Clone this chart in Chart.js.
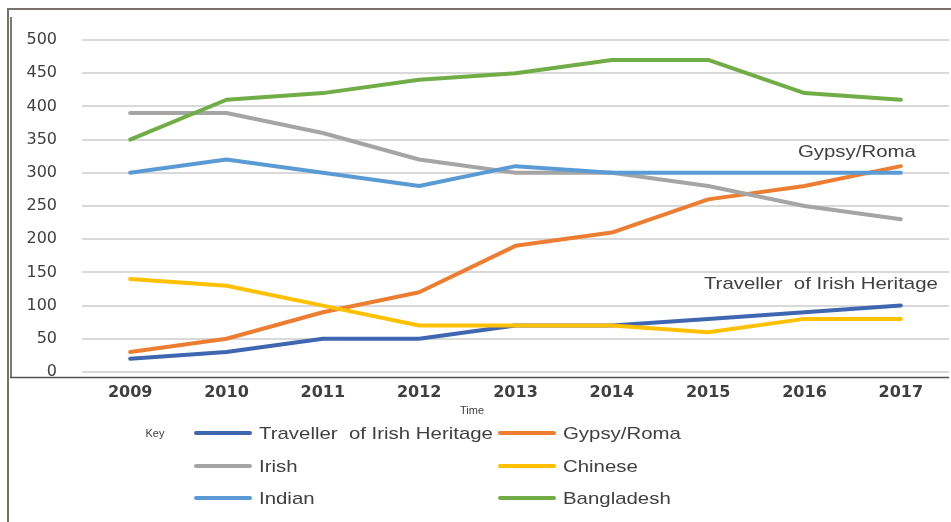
<!DOCTYPE html>
<html>
<head>
<meta charset="utf-8">
<script src="https://cdn.jsdelivr.net/npm/chart.js@4/dist/chart.umd.min.js"></script>
<style>
  html, body { margin: 0; padding: 0; background: #ffffff; }
  #wrap { width: 951px; height: 522px; }
</style>
</head>
<body>
<div id="wrap"><canvas id="c" width="951" height="522"></canvas></div>
<script>
const years = ['2009', '2010', '2011', '2012', '2013', '2014', '2015', '2016', '2017'];
const seriesNames = ['Traveller  of Irish Heritage', 'Gypsy/Roma', 'Irish', 'Chinese', 'Indian', 'Bangladesh'];
const traveller = [20, 30, 50, 50, 70, 70, 80, 90, 100];
const gypsyRoma = [30, 50, 90, 120, 190, 210, 260, 280, 310];
const irish = [390, 390, 360, 320, 300, 300, 280, 250, 230];
const chinese = [140, 130, 100, 70, 70, 70, 60, 80, 80];
const indian = [300, 320, 300, 280, 310, 300, 300, 300, 300];
const bangladesh = [350, 410, 420, 440, 450, 470, 470, 420, 410];
const yMin = 0, yMax = 500, yStep = 50;
const colors = ['#3f66b0', '#ed7d31', '#a5a5a5', '#ffc000', '#5b9bd5', '#70ad47'];
const seriesValues = [traveller, gypsyRoma, irish, chinese, indian, bangladesh];

const TEXT = '#404040';

function stretchText(ctx, text, x, y, sx, align) {
  ctx.save();
  ctx.translate(x, y);
  ctx.scale(sx, 1);
  ctx.textAlign = align;
  ctx.fillText(text, 0, 0);
  ctx.restore();
}

const decor = {
  id: 'decor',
  beforeDraw(chart) {
    const ctx = chart.ctx;
    ctx.save();
    ctx.fillStyle = '#ffffff';
    ctx.fillRect(0, 0, chart.width, chart.height);
    ctx.restore();
  },
  afterDraw(chart) {
    const ctx = chart.ctx;
    const xs = chart.scales.x, ys = chart.scales.y;
    ctx.save();
    // outer frame
    ctx.strokeStyle = '#7b716b';
    ctx.lineWidth = 2;
    ctx.beginPath();
    ctx.moveTo(7, 9); ctx.lineTo(951, 9);
    ctx.moveTo(8, 8); ctx.lineTo(8, 522);
    ctx.stroke();
    // inner frame
    ctx.strokeStyle = '#505050';
    ctx.lineWidth = 1.5;
    ctx.beginPath();
    ctx.moveTo(11, 17); ctx.lineTo(11, 378);
    ctx.moveTo(10, 377.5); ctx.lineTo(949, 377.5);
    ctx.stroke();

    ctx.fillStyle = TEXT;
    ctx.textBaseline = 'middle';
    // series annotations
    ctx.font = '17px "Liberation Sans", Arial, sans-serif';
    stretchText(ctx, 'Gypsy/Roma', xs.getPixelForValue(8) + 15, ys.getPixelForValue(331), 1.2, 'right');
    stretchText(ctx, 'Traveller  of Irish Heritage', xs.getPixelForValue(8) + 37, ys.getPixelForValue(132), 1.2, 'right');

    // axis title and key
    ctx.font = '11px "Liberation Sans", Arial, sans-serif';
    ctx.textAlign = 'center';
    ctx.fillText('Time', 472, 411);
    ctx.fillText('Key', 155, 434);

    // legend
    const colX = [196, 500];
    const rowY = [433, 466, 498];
    chart.data.datasets.forEach((ds, i) => {
      const cx = colX[i % 2], cy = rowY[Math.floor(i / 2)];
      ctx.strokeStyle = ds.borderColor;
      ctx.lineWidth = 4;
      ctx.lineCap = 'round';
      ctx.beginPath();
      ctx.moveTo(cx, cy); ctx.lineTo(cx + 54, cy);
      ctx.stroke();
      ctx.fillStyle = TEXT;
      ctx.font = '17px "Liberation Sans", Arial, sans-serif';
      stretchText(ctx, ds.label, cx + 63, cy + 1, 1.2, 'left');
    });
    ctx.restore();
  }
};

const datasets = seriesNames.map((name, i) => ({
  label: name,
  data: seriesValues[i],
  borderColor: colors[i],
  backgroundColor: colors[i],
  borderWidth: 4,
  pointRadius: 0,
  pointHoverRadius: 0,
  tension: 0,
  fill: false,
  borderJoinStyle: 'round',
  borderCapStyle: 'round',
  order: seriesNames.length - i
}));

new Chart(document.getElementById('c'), {
  type: 'line',
  data: { labels: years, datasets: datasets },
  options: {
    responsive: false,
    devicePixelRatio: 1,
    animation: false,
    layout: { padding: { top: 40, right: 2, bottom: 0, left: 0 } },
    plugins: { legend: { display: false }, tooltip: { enabled: false } },
    scales: {
      x: {
        offset: true,
        grid: { display: false, drawTicks: false },
        border: { display: false },
        ticks: {
          color: TEXT,
          padding: 11,
          font: { family: '"DejaVu Sans", Verdana, sans-serif', size: 16, weight: 'bold' },
          maxRotation: 0
        },
        afterFit(s) { s.height = 150; }
      },
      y: {
        min: yMin,
        max: yMax,
        ticks: {
          stepSize: yStep,
          color: TEXT,
          padding: 25,
          font: { family: '"DejaVu Sans", Verdana, sans-serif', size: 16 }
        },
        grid: { color: '#d9d9d9', lineWidth: 2, drawTicks: false },
        border: { display: false },
        afterFit(s) { s.width = 82; }
      }
    }
  },
  plugins: [decor]
});
</script>
</body>
</html>
